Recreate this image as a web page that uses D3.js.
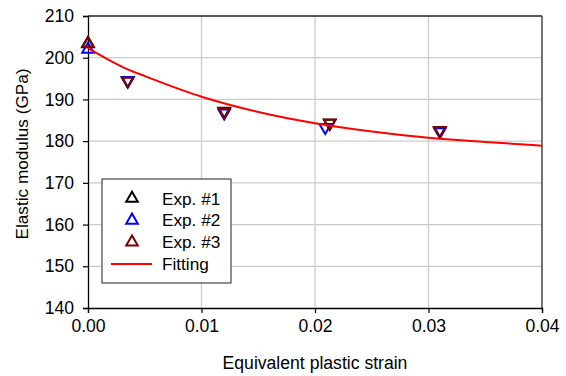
<!DOCTYPE html>
<html>
<head>
<meta charset="utf-8">
<script src="https://cdn.jsdelivr.net/npm/d3@7"></script>
<style>
  body { margin: 0; background: #fff; }
  svg text { font-family: "Liberation Sans", Arial, sans-serif; fill: #000; }
</style>
</head>
<body>
<svg id="svg" width="566" height="376"></svg>
<script>
// data
var strain1 = [0, 0.0035, 0.012, 0.0213, 0.031]
var exp1 = [203.3, 194.5, 187.2, 184.3, 182.6]
var strain2 = [0, 0.0035, 0.012, 0.0209, 0.031]
var exp2 = [202.0, 194.6, 186.8, 183.3, 182.3]
var strain3 = [0, 0.0035, 0.012, 0.0213, 0.031]
var exp3 = [203.4, 194.4, 187.1, 184.4, 182.6]

// fitting curve
var fitStrain = [0, 0.0035, 0.005, 0.01, 0.015, 0.02, 0.025, 0.03, 0.035, 0.04]
var fitModulus = [202.3, 197.2, 195.6, 190.65, 187.0, 184.3, 182.3, 180.8, 179.8, 178.9]

var xTicks = [0, 0.01, 0.02, 0.03, 0.04]
var yTicks = [140, 150, 160, 170, 180, 190, 200, 210]

var seriesNames = ["Exp. #1", "Exp. #2", "Exp. #3"]
var seriesColors = ["#000000", "#0000ff", "#800000"]

var svg = d3.select("#svg");
const margin = { top: 16, right: 24, bottom: 68, left: 88 },
  width = +svg.attr("width") - margin.left - margin.right,
  height = +svg.attr("height") - margin.top - margin.bottom;

let x = d3.scaleLinear().domain([0, 0.04]).range([0, width]);
let y = d3.scaleLinear().domain([140, 210]).range([height, 0]);

let g = svg.append("g").attr("transform", "translate(" + margin.left + "," + margin.top + ")");

// grid lines
g.append("g").selectAll("line")
  .data(xTicks.slice(1, -1))
  .enter().append("line")
  .attr("x1", d => x(d)).attr("x2", d => x(d))
  .attr("y1", 0).attr("y2", height)
  .attr("stroke", "#cccccc").attr("stroke-width", 1.3);
g.append("g").selectAll("line")
  .data(yTicks.slice(1, -1))
  .enter().append("line")
  .attr("x1", 0).attr("x2", width)
  .attr("y1", d => y(d)).attr("y2", d => y(d))
  .attr("stroke", "#cccccc").attr("stroke-width", 1.3);

// top and right border
g.append("line").attr("x1", 0).attr("x2", width).attr("y1", 0).attr("y2", 0)
  .attr("stroke", "#222").attr("stroke-width", 1.3);
g.append("line").attr("x1", width).attr("x2", width).attr("y1", 0).attr("y2", height)
  .attr("stroke", "#444").attr("stroke-width", 1.5);

// axes
let xAxis = g.append("g")
  .attr("transform", "translate(0," + height + ")")
  .call(d3.axisBottom(x).tickValues(xTicks).tickFormat(d3.format(".2f")).tickSize(5).tickPadding(7));
let yAxis = g.append("g")
  .call(d3.axisLeft(y).tickValues(yTicks).tickSize(5).tickPadding(9));
[xAxis, yAxis].forEach(a => {
  a.select(".domain").attr("stroke", "#000").attr("stroke-width", 1.3);
  a.selectAll(".tick line").attr("stroke", "#000").attr("stroke-width", 1.2);
  a.selectAll(".tick text").attr("font-size", 17.6).attr("font-family", "Liberation Sans, Arial, sans-serif");
});

// axis titles
svg.append("text")
  .attr("text-anchor", "middle")
  .attr("x", margin.left + width / 2)
  .attr("y", 369)
  .attr("font-size", 17.6)
  .text("Equivalent plastic strain");
svg.append("text")
  .attr("text-anchor", "middle")
  .attr("transform", "translate(28,154)rotate(-90)")
  .attr("font-size", 17.2)
  .text("Elastic modulus (GPa)");

// markers: first point upward triangle, later points downward
let tri = d3.symbol().type(d3.symbolTriangle).size(58);
let series = [
  { xs: strain1, ys: exp1 },
  { xs: strain2, ys: exp2 },
  { xs: strain3, ys: exp3 }
];
series.forEach((s, k) => {
  g.append("g").selectAll("path")
    .data(s.ys)
    .enter().append("path")
    .attr("d", tri)
    .attr("transform", (d, i) => "translate(" + x(s.xs[i]) + "," + y(d) + ")" + (i > 0 ? "rotate(180)" : ""))
    .attr("fill", "none")
    .attr("stroke", seriesColors[k])
    .attr("stroke-width", 2);
});

// fitting line
let line = d3.line()
  .x((d, i) => x(fitStrain[i]))
  .y(d => y(d))
  .curve(d3.curveMonotoneX);
g.append("path")
  .datum(fitModulus)
  .attr("d", line)
  .attr("fill", "none")
  .attr("stroke", "#ff0000")
  .attr("stroke-width", 2);

// legend
let legend = svg.append("g").attr("transform", "translate(102,179)");
legend.append("rect")
  .attr("width", 129).attr("height", 104)
  .attr("fill", "#fff").attr("stroke", "#444").attr("stroke-width", 1.2);
let rows = legend.selectAll(".legend")
  .data(seriesNames.concat(["Fitting"]))
  .enter().append("g")
  .attr("class", "legend")
  .attr("transform", (d, i) => "translate(0," + (19.5 + i * 21.8) + ")");
rows.filter((d, i) => i < 3).append("path")
  .attr("d", tri)
  .attr("transform", "translate(30,0)")
  .attr("fill", "none")
  .attr("stroke", (d, i) => seriesColors[i])
  .attr("stroke-width", 2);
rows.filter((d, i) => i == 3).append("line")
  .attr("x1", 9).attr("x2", 50)
  .attr("stroke", "#ff0000").attr("stroke-width", 2);
rows.append("text")
  .attr("x", 60)
  .attr("dy", "0.35em")
  .attr("font-size", 17.2)
  .text(d => d);
</script>
</body>
</html>
